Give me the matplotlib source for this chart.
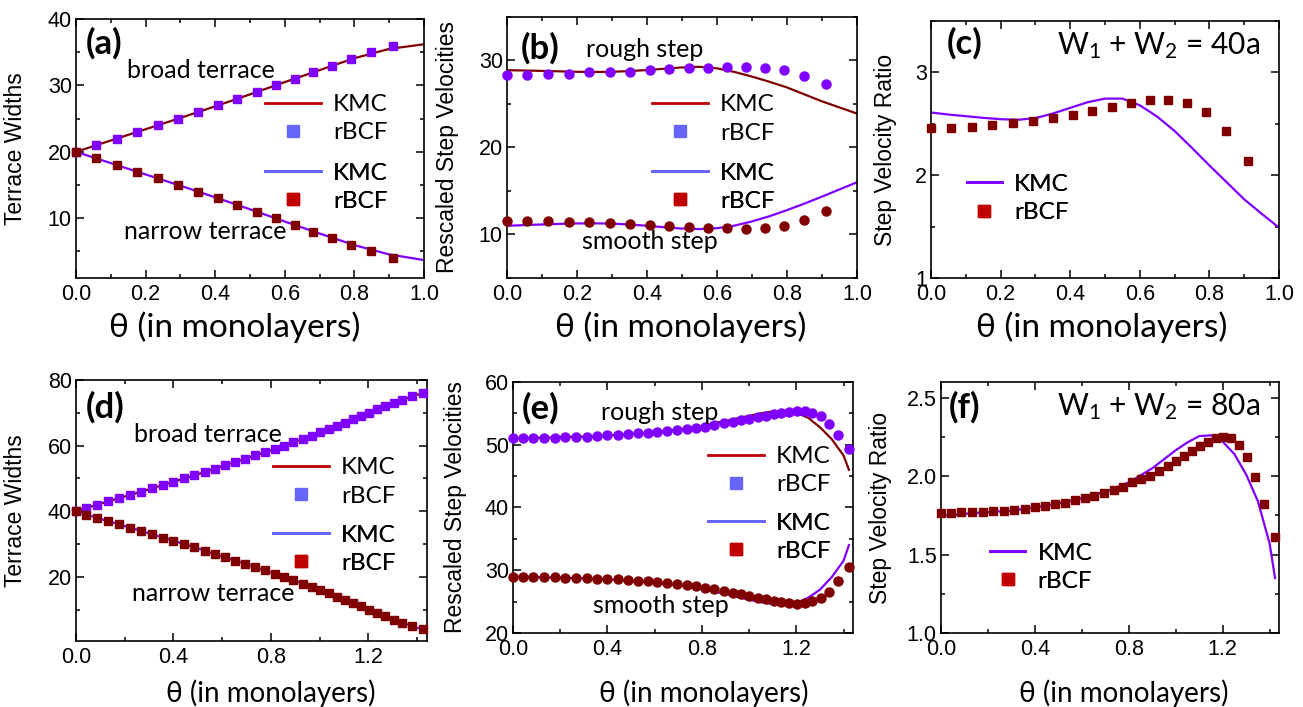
import matplotlib
matplotlib.use("Agg")
import matplotlib.pyplot as plt
from matplotlib.lines import Line2D
from matplotlib.ticker import MultipleLocator, FormatStrFormatter

plt.rcParams['font.family'] = ['Liberation Sans', 'DejaVu Sans']
plt.rcParams['mathtext.fontset'] = 'custom'
plt.rcParams['mathtext.rm'] = 'Lato'
plt.rcParams['mathtext.it'] = 'Lato:italic'

LABEL_FONT = ['Lato', 'DejaVu Sans']

WINE = '#800000'
VIOLET = '#8000ff'
KEY_RED = '#c00000'
KEY_BLUE = '#6666ff'

# ---- W1 + W2 = 40a ----
theta40 = [0, .058, .117, .176, .235, .293, .351, .408, .464, .519, .574,
           .628, .682, .736, .791, .848, .912]
broad40 = list(range(20, 37))
narrow40 = list(range(20, 3, -1))

theta40_kmc = [0, .1, .2, .3, .4, .5, .6, .7, .8, .9, 1.0]
broad40_kmc = [20.0, 21.7, 23.4, 25.1, 26.85, 28.65, 30.5, 32.3, 34.1, 35.5, 36.2]
narrow40_kmc = [20.0, 18.3, 16.6, 14.9, 13.15, 11.35, 9.5, 7.7, 5.95, 4.55, 3.7]

rough40 = [28.38, 28.31, 28.5, 28.5, 28.62, 28.69, 28.73, 28.92, 29.0, 29.08,
           29.15, 29.27, 29.27, 29.19, 28.88, 28.27, 27.27]
smooth40 = [11.54, 11.54, 11.5, 11.46, 11.42, 11.35, 11.23, 11.12, 10.96, 10.88,
            10.77, 10.69, 10.65, 10.73, 11.0, 11.62, 12.69]

theta40_fine = [0, .05, .1, .15, .2, .25, .3, .35, .4, .45, .5, .55, .6, .65,
                .7, .75, .8, .85, .9, .95, 1.0]
rough40_kmc = [28.88, 28.85, 28.8, 28.75, 28.7, 28.68, 28.7, 28.78, 28.9, 29.05,
               29.2, 29.27, 29.1, 28.68, 28.15, 27.55, 26.9, 26.1, 25.3, 24.6, 23.9]
smooth40_kmc = [11.0, 11.08, 11.15, 11.22, 11.27, 11.28, 11.25, 11.15, 11.0, 10.83,
                10.68, 10.62, 10.72, 11.02, 11.5, 12.1, 12.8, 13.55, 14.35, 15.18, 16.0]

ratio40 = [2.461, 2.461, 2.471, 2.484, 2.503, 2.529, 2.558, 2.590, 2.629, 2.668,
           2.703, 2.732, 2.735, 2.706, 2.616, 2.432, 2.139]
ratio40_kmc = [2.61, 2.59, 2.574, 2.558, 2.545, 2.539, 2.555, 2.6, 2.655, 2.71,
               2.745, 2.745, 2.68, 2.57, 2.43, 2.265, 2.095, 1.93, 1.765, 1.625, 1.49]

# ---- W1 + W2 = 80a ----
theta80 = [0, .041, .086, .132, .177, .222, .267, .312, .356, .400, .444, .486,
           .529, .571, .612, .653, .695, .736, .775, .815, .853, .892, .930, .967,
           1.001, 1.036, 1.070, 1.104, 1.137, 1.170, 1.203, 1.236, 1.268, 1.303,
           1.337, 1.378, 1.423]
broad80 = list(range(40, 77))
narrow80 = list(range(40, 3, -1))

theta80_kmc = [0, .1, .2, .3, .4, .5, .6, .7, .8, .9, 1.0, 1.1, 1.2, 1.3, 1.4, 1.44]
broad80_kmc = [40, 42.3, 44.5, 46.7, 49.0, 51.3, 53.7, 56.1, 58.6, 61.2, 64.0,
               66.9, 69.9, 72.9, 75.5, 76.2]
narrow80_kmc = [40, 37.7, 35.5, 33.3, 31.0, 28.7, 26.3, 23.9, 21.4, 18.8, 16.0,
                13.1, 10.1, 7.1, 4.5, 3.8]

rough80 = [51.0, 51.05, 51.1, 51.1, 51.1, 51.2, 51.2, 51.3, 51.4, 51.5, 51.6, 51.7,
           51.8, 51.9, 52.05, 52.2, 52.35, 52.5, 52.7, 52.9, 53.15, 53.4, 53.65, 53.9,
           54.15, 54.4, 54.65, 54.9, 55.1, 55.25, 55.4, 55.3, 55.0, 54.6, 53.3, 51.6, 49.4]
smooth80 = [28.9, 28.9, 28.85, 28.85, 28.85, 28.8, 28.75, 28.7, 28.65, 28.6, 28.55,
            28.45, 28.35, 28.25, 28.15, 28.0, 27.85, 27.65, 27.45, 27.2, 26.95, 26.7,
            26.4, 26.15, 25.9, 25.6, 25.35, 25.1, 24.9, 24.75, 24.65, 24.75, 25.1,
            25.6, 26.6, 28.3, 30.5]

theta80_fine = [0, .1, .2, .3, .4, .5, .6, .7, .8, .9, 1.0, 1.05, 1.1, 1.15, 1.2,
                1.25, 1.3, 1.35, 1.4, 1.423]
rough80_kmc = [51.0, 51.1, 51.2, 51.3, 51.5, 51.7, 52.0, 52.4, 53.0, 53.8, 54.6,
               55.0, 55.3, 55.35, 55.1, 54.3, 52.8, 50.9, 48.3, 46.0]
smooth80_kmc = [29.0, 28.9, 28.8, 28.7, 28.55, 28.3, 28.0, 27.6, 27.0, 26.2, 25.3,
                24.9, 24.6, 24.5, 24.8, 25.6, 26.9, 28.9, 31.5, 34.0]

ratio80 = [1.766, 1.766, 1.77, 1.77, 1.77, 1.775, 1.78, 1.785, 1.79, 1.80, 1.81,
           1.82, 1.83, 1.845, 1.86, 1.875, 1.895, 1.91, 1.93, 1.96, 1.98, 2.00,
           2.03, 2.065, 2.095, 2.13, 2.16, 2.19, 2.22, 2.24, 2.25, 2.24, 2.20,
           2.12, 1.995, 1.82, 1.61]
ratio80_kmc = [1.745, 1.76, 1.77, 1.78, 1.80, 1.825, 1.86, 1.90, 1.96, 2.05, 2.165,
               2.215, 2.255, 2.26, 2.22, 2.14, 2.01, 1.84, 1.57, 1.35]


def style(ax, xmaj, ymaj, xlim, ylim, ylabel, ylab_x):
    ax.set_xlim(*xlim)
    ax.set_ylim(*ylim)
    ax.xaxis.set_major_locator(MultipleLocator(xmaj))
    ax.xaxis.set_minor_locator(MultipleLocator(xmaj / 2))
    ax.yaxis.set_major_locator(MultipleLocator(ymaj))
    ax.yaxis.set_minor_locator(MultipleLocator(ymaj / 2))
    ax.tick_params(which='both', direction='in', top=True, right=True,
                   width=1.1, labelsize=15.5)
    ax.tick_params(which='major', length=6)
    ax.tick_params(which='minor', length=3)
    ax.tick_params(axis='x', pad=4)
    ax.tick_params(axis='y', pad=3)
    for s in ax.spines.values():
        s.set_linewidth(1.2)
    ax.set_ylabel(ylabel, fontsize=16.5)
    ax.yaxis.set_label_coords(ylab_x, 0.5)


def key(ax, line_color, mark_color, anchor, hlen=2.3):
    handles = [Line2D([], [], color=line_color, lw=2),
               Line2D([], [], ls='none', marker='s', ms=8, color=mark_color)]
    leg = ax.legend(handles, ['KMC', 'rBCF'], loc='upper left',
                    bbox_to_anchor=anchor, frameon=False,
                    prop={'family': LABEL_FONT, 'size': 17.5},
                    handlelength=hlen, handletextpad=0.5, labelspacing=0.3,
                    borderpad=0, borderaxespad=0)
    ax.add_artist(leg)


def note(ax, x, y, s, **kw):
    ax.text(x, y, s, transform=ax.transAxes, va='center',
            family=LABEL_FONT, **kw)


fig = plt.figure(figsize=(13.03, 7.07), dpi=100)
ax_a = fig.add_axes([0.0583, 0.6068, 0.2671, 0.3663])
ax_b = fig.add_axes([0.3891, 0.6068, 0.2686, 0.3692])
ax_c = fig.add_axes([0.7145, 0.6068, 0.2671, 0.3635])
ax_d = fig.add_axes([0.0583, 0.0934, 0.2694, 0.3692])
ax_e = fig.add_axes([0.3937, 0.1047, 0.2609, 0.3550])
ax_f = fig.add_axes([0.7222, 0.1047, 0.2594, 0.3550])

mk = dict(ls='none', clip_on=False, zorder=3)

# (a) terrace widths, 40a
ax_a.plot(theta40_kmc, broad40_kmc, color=WINE, lw=1.6)
ax_a.plot(theta40_kmc, narrow40_kmc, color=VIOLET, lw=1.6)
ax_a.plot(theta40, broad40, marker='s', ms=5.5, color=VIOLET, **mk)
ax_a.plot(theta40, narrow40, marker='s', ms=5.5, color=WINE, **mk)
style(ax_a, 0.2, 10, (0, 1.0), (1, 40), 'Terrace Widths', -0.14)
note(ax_a, 0.029, 0.905, '(a)', size=25, weight='bold')
note(ax_a, 0.147, 0.80, 'broad terrace', size=18)
note(ax_a, 0.138, 0.18, 'narrow terrace', size=18)
key(ax_a, KEY_RED, KEY_BLUE, (0.543, 0.71))
key(ax_a, KEY_BLUE, KEY_RED, (0.543, 0.446))

# (b) step velocities, 40a
ax_b.plot(theta40_fine, rough40_kmc, color=WINE, lw=1.6)
ax_b.plot(theta40_fine, smooth40_kmc, color=VIOLET, lw=1.6)
ax_b.plot(theta40, rough40, marker='o', ms=6.5, color=VIOLET, **mk)
ax_b.plot(theta40, smooth40, marker='o', ms=6.5, color=WINE, **mk)
style(ax_b, 0.2, 10, (0, 1.0), (5, 35), 'Rescaled Step Velocities', -0.137)
note(ax_b, 0.04, 0.88, '(b)', size=25, weight='bold')
note(ax_b, 0.226, 0.877, 'rough step', size=18)
note(ax_b, 0.214, 0.138, 'smooth step', size=18)
key(ax_b, KEY_RED, KEY_BLUE, (0.414, 0.704))
key(ax_b, KEY_BLUE, KEY_RED, (0.414, 0.442))

# (c) velocity ratio, 40a
ax_c.plot(theta40_fine, ratio40_kmc, color=VIOLET, lw=1.6)
ax_c.plot(theta40, ratio40, marker='s', ms=6, color=WINE, **mk)
style(ax_c, 0.2, 1, (0, 1.0), (1, 3.5), 'Step Velocity Ratio', -0.098)
note(ax_c, 0.046, 0.914, '(c)', size=25, weight='bold')
note(ax_c, 0.945, 0.905, r'W$_\mathregular{1}$ + W$_\mathregular{2}$ = 40a',
     size=21.5, ha='right')
key(ax_c, VIOLET, KEY_RED, (0.103, 0.405), hlen=1.45)

# (d) terrace widths, 80a
ax_d.plot(theta80_kmc, broad80_kmc, color=WINE, lw=1.6)
ax_d.plot(theta80_kmc, narrow80_kmc, color=VIOLET, lw=1.6)
ax_d.plot(theta80, broad80, marker='s', ms=5.5, color=VIOLET, **mk)
ax_d.plot(theta80, narrow80, marker='s', ms=5.5, color=WINE, **mk)
style(ax_d, 0.4, 20, (0, 1.44), (0.5, 80), 'Terrace Widths', -0.14)
note(ax_d, 0.028, 0.897, '(d)', size=25, weight='bold')
note(ax_d, 0.165, 0.79, 'broad terrace', size=18)
note(ax_d, 0.16, 0.18, 'narrow terrace', size=18)
key(ax_d, KEY_RED, KEY_BLUE, (0.561, 0.704))
key(ax_d, KEY_BLUE, KEY_RED, (0.561, 0.446))

# (e) step velocities, 80a
ax_e.plot(theta80_fine, rough80_kmc, color=WINE, lw=1.6)
ax_e.plot(theta80_fine, smooth80_kmc, color=VIOLET, lw=1.6)
ax_e.plot(theta80, rough80, marker='o', ms=6.5, color=VIOLET, **mk)
ax_e.plot(theta80, smooth80, marker='o', ms=6.5, color=WINE, **mk)
style(ax_e, 0.4, 10, (0, 1.44), (20, 60), 'Rescaled Step Velocities', -0.135)
note(ax_e, 0.026, 0.896, '(e)', size=25, weight='bold')
note(ax_e, 0.259, 0.88, 'rough step', size=18)
note(ax_e, 0.235, 0.11, 'smooth step', size=18)
key(ax_e, KEY_RED, KEY_BLUE, (0.574, 0.745))
key(ax_e, KEY_BLUE, KEY_RED, (0.574, 0.48))

# (f) velocity ratio, 80a
ax_f.plot(theta80_fine, ratio80_kmc, color=VIOLET, lw=1.6)
ax_f.plot(theta80, ratio80, marker='s', ms=6, color=WINE, **mk)
style(ax_f, 0.4, 0.5, (0, 1.44), (1.0, 2.6), 'Step Velocity Ratio', -0.145)
ax_f.yaxis.set_major_formatter(FormatStrFormatter('%.1f'))
note(ax_f, 0.024, 0.9, '(f)', size=25, weight='bold')
note(ax_f, 0.944, 0.9, r'W$_\mathregular{1}$ + W$_\mathregular{2}$ = 80a',
     size=21.5, ha='right')
key(ax_f, VIOLET, KEY_RED, (0.145, 0.36), hlen=1.45)

for ax in (ax_a, ax_b, ax_c):
    ax.set_xlabel('θ (in monolayers)', family=LABEL_FONT, fontsize=24)
    ax.xaxis.label.set_va('center')
ax_a.xaxis.set_label_coords(0.455, -0.19)
ax_b.xaxis.set_label_coords(0.495, -0.188)
ax_c.xaxis.set_label_coords(0.49, -0.19)
for ax in (ax_d, ax_e, ax_f):
    ax.set_xlabel('θ (in monolayers)', family=LABEL_FONT, fontsize=20)
    ax.xaxis.label.set_va('center')
ax_d.xaxis.set_label_coords(0.556, -0.2)
ax_e.xaxis.set_label_coords(0.56, -0.24)
ax_f.xaxis.set_label_coords(0.54, -0.24)

fig.savefig('out.png', dpi=100)
